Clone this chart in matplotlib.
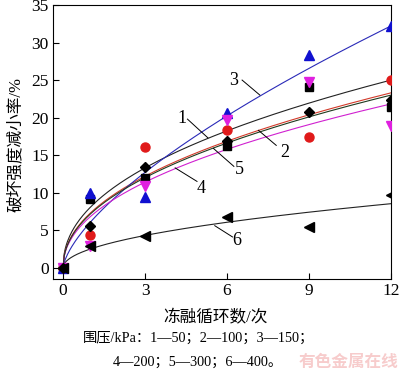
import numpy as np
import matplotlib
matplotlib.use("Agg")
import matplotlib.pyplot as plt

# ======= 数据 =======
cycles = [0, 1, 3, 6, 9, 12]

# 各围压下的实测点
pts_50 = [0, 9.1, 11.9, 16.2, 24.1, 21.4]     # 黑色方块
pts_100 = [0, 4.3, 16.1, 18.4, 17.4, 25.0]    # 红色圆点
pts_150 = [0, 10.0, 9.4, 20.6, 28.4, 32.2]    # 蓝色上三角
pts_200 = [0, 2.9, 10.9, 19.7, 24.8, 18.9]    # 品红下三角
pts_300 = [0, 5.5, 13.4, 16.9, 20.8, 22.3]    # 黑色菱形
pts_400 = [0, 2.85, 4.2, 6.8, 5.4, 9.7]       # 黑色左三角

# 拟合曲线 y = a * N^b 的系数（按图中曲线估读）
fit_a = [8.07, 7.30, 6.08, 6.82, 7.17, 2.50]
fit_b = [0.455, 0.467, 0.671, 0.468, 0.469, 0.494]
curve_names = ["1", "2", "3", "4", "5", "6"]
# =================================

serif = ["Liberation Serif", "Noto Sans CJK SC"]
plt.rcParams["font.family"] = serif
plt.rcParams["mathtext.fontset"] = "stix"

fig = plt.figure(figsize=(4.0, 3.75), dpi=100)
ax = fig.add_axes([0.1325, 0.256, 0.845, 0.7307])

line_colors = ["#222222", "#d23a2a", "#2a2ab8", "#d020d0", "#1f3a1f", "#222222"]
xx = np.linspace(0, 12, 300)
for a, b, c in zip(fit_a, fit_b, line_colors):
    ax.plot(xx, a * xx ** b, color=c, lw=0.8, zorder=2)

ms = 6.5
ax.plot(cycles, pts_50, "s", color="black", ms=ms - 0.5, ls="none", zorder=3)
ax.plot(cycles, pts_100, "o", color="#e01a1a", ms=ms, ls="none", zorder=3)
ax.plot(cycles, pts_150, "^", color="#1010d0", ms=ms + 0.5, ls="none", zorder=3)
ax.plot(cycles, pts_200, "v", color="#e020e0", ms=ms + 0.5, ls="none", zorder=3)
ax.plot(cycles, pts_300, "D", color="black", ms=ms - 1, ls="none", zorder=3)
ax.plot(cycles, pts_400, "<", color="black", ms=ms + 0.5, ls="none", zorder=3)

# 曲线编号及引线 (文字位置, 引线端点) 以数据坐标给出
labels = [
    ("1", (4.35, 19.9), (4.55, 19.8), (5.3, 17.3)),
    ("2", (8.1, 15.4), (7.8, 16.3), (7.15, 18.3)),
    ("3", (6.25, 25.0), (6.55, 25.0), (7.2, 23.0)),
    ("4", (5.05, 10.6), (4.9, 11.5), (4.1, 13.3)),
    ("5", (6.45, 13.1), (6.25, 13.5), (5.5, 15.9)),
    ("6", (6.35, 3.6), (6.2, 4.1), (5.55, 5.6)),
]
for name, tpos, p0, p1 in labels:
    ax.plot([p0[0], p1[0]], [p0[1], p1[1]], color="black", lw=0.7, zorder=2)
    ax.text(tpos[0], tpos[1], name, fontsize=13, ha="center", va="center")

ax.set_xlim(-0.37, 12)
ax.set_ylim(-1.5, 35)
ax.set_xticks([0, 3, 6, 9, 12])
ax.set_yticks(range(0, 36, 5))
ax.tick_params(direction="in", length=4, width=0.8, labelsize=12.5, pad=3)
for s in ax.spines.values():
    s.set_linewidth(0.8)

ax.set_xlabel("冻融循环数/次", fontsize=12)
ax.xaxis.set_label_coords(0.48, -0.115)
ax.set_ylabel("破坏强度减小率/%", fontsize=12)
ax.yaxis.set_label_coords(-0.086, 0.49)

fig.text(0.208, 0.098, "围压/kPa：1—50；2—100；3—150；", fontsize=10.3,
         ha="left", va="center")
fig.text(0.283, 0.034, "4—200；5—300；6—400。", fontsize=10.3,
         ha="left", va="center")
fig.text(0.995, 0.036, "有色金属在线", fontsize=12, color="#f7cccc",
         ha="right", va="center", family=["Noto Sans CJK SC"], weight="bold")

fig.savefig("out.png", dpi=100)
